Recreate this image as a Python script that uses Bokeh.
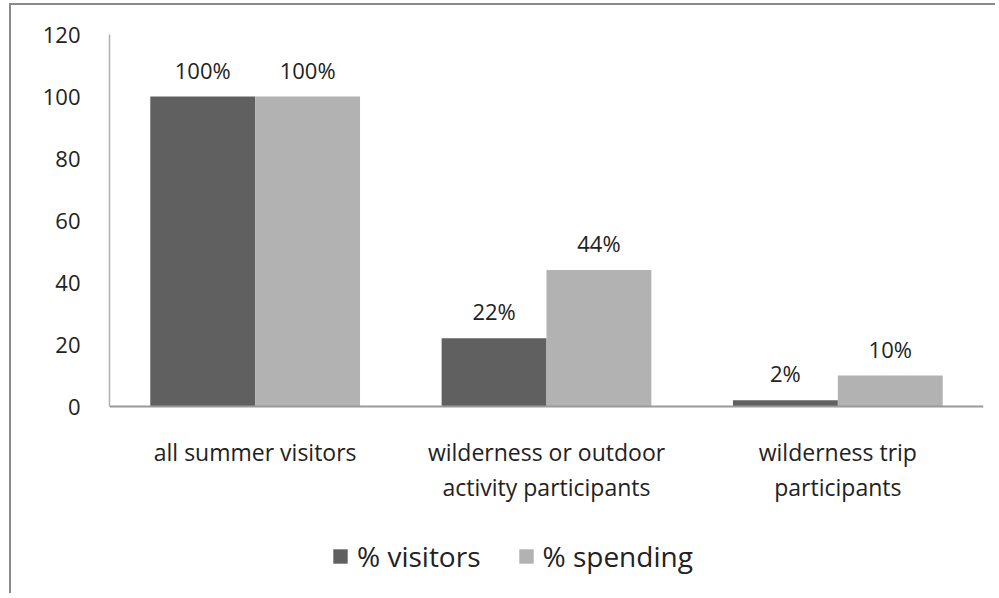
from bokeh.plotting import figure
from bokeh.models import ColumnDataSource, Range1d, FixedTicker, Legend, LegendItem, Span
from bokeh.transform import dodge
from bokeh.core.properties import value
from bokeh.embed import file_html
from bokeh.resources import INLINE

categories = ["all summer visitors",
              "wilderness or outdoor\nactivity participants",
              "wilderness trip\nparticipants"]
visitors = [100, 22, 2]
spending = [100, 44, 10]
visitor_labels = ["100%", "22%", "2%"]
spending_labels = ["100%", "44%", "10%"]
y_ticks = [0, 20, 40, 60, 80, 100, 120]

DARK = "#606060"
LIGHT = "#b2b2b2"
FONT = "Open Sans"
TXT = "#222222"

src = ColumnDataSource(dict(cat=categories, visitors=visitors, spending=spending,
                            vl=visitor_labels, sl=spending_labels,
                            base=[0] * len(categories)))

p = figure(x_range=categories, y_range=Range1d(-57.74, 120), width=986, height=590,
           output_backend="svg", toolbar_location=None, x_axis_location=None,
           min_border_left=98, min_border_right=14, min_border_top=29, min_border_bottom=10)
p.x_range.range_padding = 0
p.styles = {"margin-left": "9px", "margin-top": "3px",
            "border-left": "2px solid #8a8a8a", "border-top": "2px solid #8a8a8a"}

r1 = p.vbar(x=dodge("cat", -0.18, range=p.x_range), top="visitors", width=0.36,
            source=src, fill_color=DARK, line_color=None)
r2 = p.vbar(x=dodge("cat", 0.18, range=p.x_range), top="spending", width=0.36,
            source=src, fill_color=LIGHT, line_color=None)

p.text(x=dodge("cat", -0.18, range=p.x_range), y="visitors", text="vl", source=src,
       text_align="center", text_baseline="bottom", y_offset=-12,
       text_font=value(FONT), text_font_size="22px", text_color=TXT)
p.text(x=dodge("cat", 0.18, range=p.x_range), y="spending", text="sl", source=src,
       text_align="center", text_baseline="bottom", y_offset=-12,
       text_font=value(FONT), text_font_size="22px", text_color=TXT)

# category labels below the x axis line
p.text(x="cat", y="base", text="cat", source=src,
       text_align="center", text_baseline="top", y_offset=29,
       text_font=value(FONT), text_font_size="23px", text_color=TXT,
       text_line_height=1.1)

# x axis line at zero
p.add_layout(Span(location=0, dimension="width", line_color="#999999", line_width=2))

p.xgrid.visible = False
p.ygrid.visible = False
p.outline_line_color = None

p.yaxis.ticker = FixedTicker(ticks=y_ticks)
p.yaxis.bounds = (0, 120)
p.yaxis.major_tick_line_color = None
p.yaxis.minor_tick_line_color = None
p.yaxis.axis_line_color = "#b0b0b0"
p.yaxis.axis_line_width = 1.5
p.yaxis.major_label_standoff = 23
p.yaxis.major_label_text_font = FONT
p.yaxis.major_label_text_font_size = "22px"
p.yaxis.major_label_text_color = TXT

legend = Legend(items=[LegendItem(label="% visitors", renderers=[r1]),
                       LegendItem(label="% spending", renderers=[r2])],
                orientation="horizontal", location=(222, 10),
                glyph_width=18, glyph_height=18, label_standoff=8, spacing=36,
                padding=0, margin=0, border_line_color=None, background_fill_alpha=0,
                label_text_font=FONT, label_text_font_size="28px", label_text_color=TXT)
p.add_layout(legend, "center")

open("out.html", "w").write(file_html(p, INLINE))
